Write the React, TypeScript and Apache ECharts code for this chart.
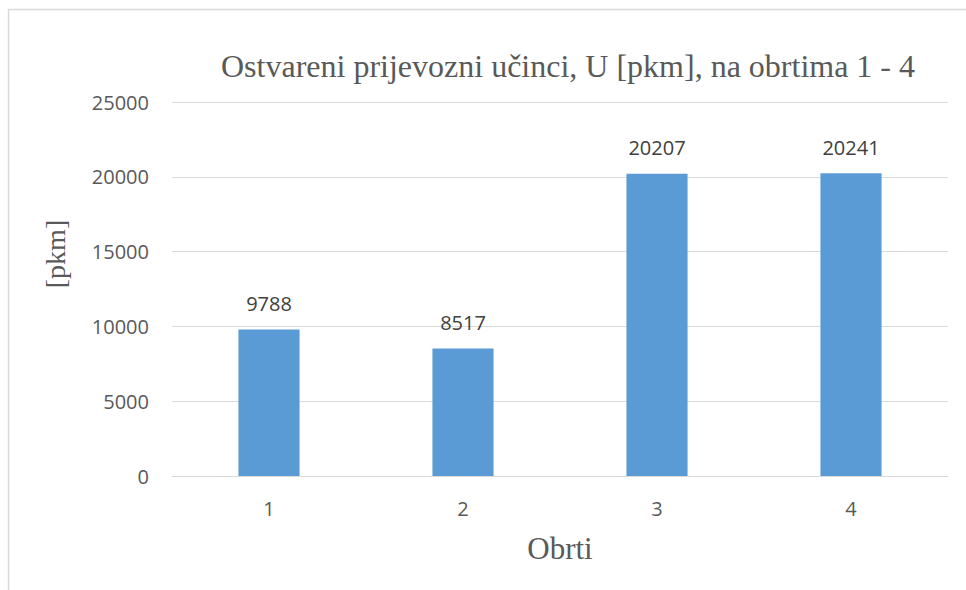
import React, { useEffect, useRef } from "react";
import * as echarts from "echarts";

const categories = ["1", "2", "3", "4"];
const values = [9788, 8517, 20207, 20241];
const titleText = "Ostvareni prijevozni učinci, U [pkm], na obrtima 1 - 4";
const yName = "[pkm]";
const xName = "Obrti";

export default function App() {
  const ref = useRef<HTMLDivElement>(null);
  useEffect(() => {
    const chart = echarts.init(ref.current!, null, { renderer: "svg" });
    const sans = "'Open Sans', 'Liberation Sans', Arial, sans-serif";
    const serif = "'Liberation Serif', 'Times New Roman', serif";
    chart.setOption({
      animation: false,
      backgroundColor: "#ffffff",
      title: {
        text: titleText,
        left: 563,
        textAlign: "center",
        top: 45,
        textStyle: { fontFamily: serif, fontSize: 32, fontWeight: "normal", color: "#595959" },
      },
      graphic: [
        {
          type: "rect",
          shape: { x: 8.5, y: 9.5, width: 1000, height: 1000 },
          style: { fill: "none", stroke: "#d9d9d9", lineWidth: 1.5 },
          silent: true,
        },
        {
          type: "text",
          x: 55,
          y: 254,
          rotation: Math.PI / 2,
          silent: true,
          style: {
            text: yName,
            fontFamily: serif,
            fontSize: 28,
            fill: "#595959",
            textAlign: "center",
            textVerticalAlign: "middle",
          },
        },
      ],
      grid: { left: 172, right: 18, top: 102, bottom: 114 },
      xAxis: {
        type: "category",
        data: categories,
        name: xName,
        nameLocation: "middle",
        nameGap: 57,
        nameTextStyle: { fontFamily: serif, fontSize: 31, color: "#595959" },
        axisLine: { lineStyle: { color: "#d9d9d9", width: 1 } },
        axisTick: { show: false },
        axisLabel: { fontFamily: sans, fontSize: 20, color: "#595959", margin: 22 },
      },
      yAxis: {
        type: "value",
        min: 0,
        max: 25000,
        interval: 5000,
        axisLine: { show: false },
        axisTick: { show: false },
        splitLine: { lineStyle: { color: "#d9d9d9", width: 1 } },
        axisLabel: {
          fontFamily: sans,
          fontSize: 20,
          color: "#595959",
          margin: 23,
          formatter: (v: number) => String(v),
        },
      },
      series: [
        {
          type: "bar",
          data: values,
          barWidth: "31.5%",
          itemStyle: { color: "#5b9bd5" },
          label: {
            show: true,
            position: "top",
            distance: 16,
            fontFamily: sans,
            fontSize: 20,
            color: "#404040",
          },
        },
      ],
    });
    return () => chart.dispose();
  }, []);
  return (
    <div
      ref={ref}
      style={{ position: "absolute", left: 0, top: 0, width: 966, height: 590 }}
    />
  );
}
